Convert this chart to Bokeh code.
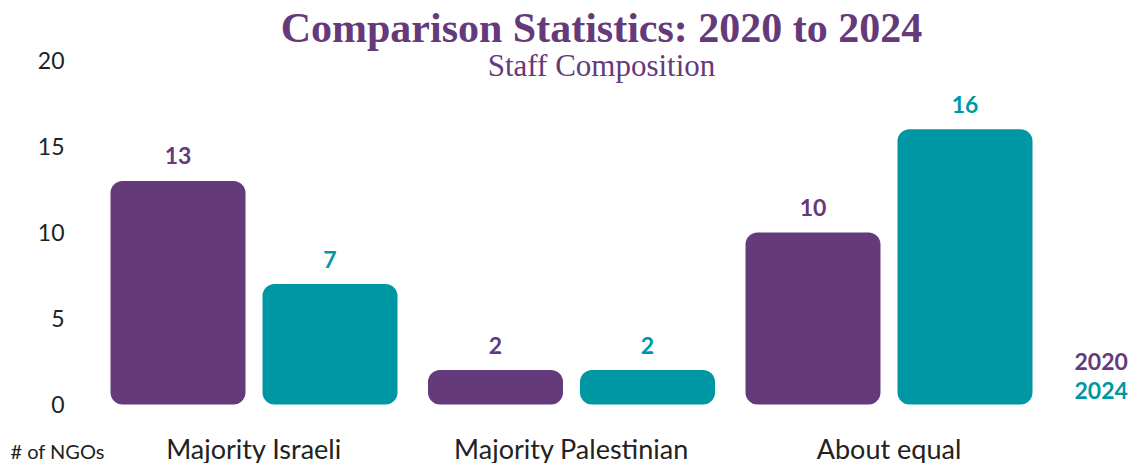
from bokeh.plotting import figure
from bokeh.models import Range1d, FixedTicker, Label, ColumnDataSource, LinearAxis
from bokeh.core.properties import value
from bokeh.embed import file_html
from bokeh.resources import INLINE

categories = ["Majority Israeli", "Majority Palestinian", "About equal"]
values_2020 = [13, 2, 10]
values_2024 = [7, 2, 16]
y_ticks = [0, 5, 10, 15, 20]
series_names = ["2020", "2024"]

PURPLE = "#653a7a"
TEAL = "#0097a5"
DARK = "#222222"
SANS = "Lato"
SERIF = "Liberation Serif"

W, H = 1129, 463
# layout (pixels): group spacing and where the value axis sits
GROUP_PX, FIRST_PX = 317.5, 253.5
ZERO_PX, TOP_PX, TOP_VAL = 404.0, 60.0, 20.0
ppu = (ZERO_PX - TOP_PX) / TOP_VAL

def xdata(px):
    return (px - FIRST_PX) / GROUP_PX

idx = list(range(len(categories)))
off = 76 / GROUP_PX
bw = 135 / GROUP_PX

source = ColumnDataSource(data=dict(
    idx=idx,
    x2020=[i - off for i in idx],
    x2024=[i + off for i in idx],
    v2020=values_2020,
    v2024=values_2024,
    t2020=[str(v) for v in values_2020],
    t2024=[str(v) for v in values_2024],
))

p = figure(
    width=W, height=H,
    x_range=Range1d(xdata(0), xdata(W)),
    y_range=Range1d(-(H - ZERO_PX) / ppu, ZERO_PX / ppu),
    output_backend="svg", toolbar_location=None,
    min_border_left=0, min_border_right=0, min_border_top=0, min_border_bottom=0,
    x_axis_location=None, y_axis_location=None,
)

p.vbar(x="x2020", top="v2020", width=bw, bottom=0,
       source=source, fill_color=PURPLE, line_color=None, border_radius=12)
p.vbar(x="x2024", top="v2024", width=bw, bottom=0,
       source=source, fill_color=TEAL, line_color=None, border_radius=12)

p.text(x="x2020", y="v2020", text="t2020", source=source,
       text_align="center", text_baseline="middle", y_offset=-25,
       text_font=value(SANS), text_font_style="bold", text_font_size="23px", text_color=PURPLE)
p.text(x="x2024", y="v2024", text="t2024", source=source,
       text_align="center", text_baseline="middle", y_offset=-25,
       text_font=value(SANS), text_font_style="bold", text_font_size="23px", text_color=TEAL)

p.xgrid.visible = False
p.ygrid.visible = False
p.outline_line_color = None
p.background_fill_color = "white"

yaxis = LinearAxis(fixed_location=xdata(96), ticker=FixedTicker(ticks=y_ticks))
yaxis.axis_line_color = None
yaxis.major_tick_line_color = None
yaxis.minor_tick_line_color = None
yaxis.major_tick_out = 0
yaxis.major_tick_in = 0
yaxis.major_label_standoff = 32
yaxis.major_label_text_font = SANS
yaxis.major_label_text_font_size = "23px"
yaxis.major_label_text_color = DARK
p.add_layout(yaxis, "left")

xaxis = LinearAxis(fixed_location=0, ticker=FixedTicker(ticks=idx),
                   major_label_overrides={i: c for i, c in zip(idx, categories)})
xaxis.axis_line_color = None
xaxis.major_tick_line_color = None
xaxis.minor_tick_line_color = None
xaxis.major_tick_out = 0
xaxis.major_tick_in = 0
xaxis.major_label_standoff = 27
xaxis.major_label_text_font = SANS
xaxis.major_label_text_font_size = "27px"
xaxis.major_label_text_color = DARK
p.add_layout(xaxis, "below")

def canvas_label(x, y, text, **kw):
    p.add_layout(Label(x=x, y=y, x_units="canvas", y_units="canvas", text=text,
                       text_baseline="middle", **kw))

canvas_label(601, 27, "Comparison Statistics: 2020 to 2024", text_align="center",
             text_font=SERIF, text_font_style="bold", text_font_size="42px", text_color=PURPLE)
canvas_label(601, 65, "Staff Composition", text_align="center",
             text_font=SERIF, text_font_size="31px", text_color=PURPLE)
canvas_label(10, 450, "# of NGOs", text_align="left",
             text_font=SANS, text_font_size="20px", text_color=DARK)
canvas_label(1074, 361, series_names[0], text_align="left",
             text_font=SANS, text_font_style="bold", text_font_size="23px", text_color=PURPLE)
canvas_label(1074, 390, series_names[1], text_align="left",
             text_font=SANS, text_font_style="bold", text_font_size="23px", text_color=TEAL)

open("out.html", "w").write(file_html(p, INLINE))
